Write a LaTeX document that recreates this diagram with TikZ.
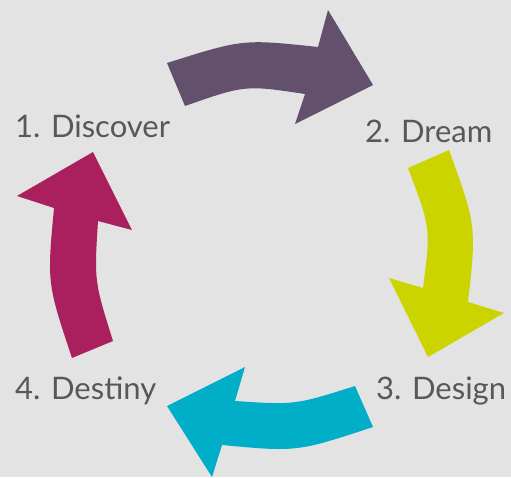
\documentclass[tikz,border=0pt]{standalone}
\usepackage{fontspec}
\setmainfont{Lato}
\usetikzlibrary{positioning}

\definecolor{bggray}{RGB}{227,227,227}
\definecolor{txtgray}{RGB}{88,88,88}
\definecolor{discoverpurple}{RGB}{99,80,108}
\definecolor{dreamlime}{RGB}{204,212,0}
\definecolor{designcyan}{RGB}{0,174,200}
\definecolor{destinymagenta}{RGB}{170,32,95}

\begin{document}
\begin{tikzpicture}[
    x=1pt, y=-1pt,
    steplabel/.style={anchor=base west, inner sep=0pt, text=txtgray, font=\fontsize{31}{36}\selectfont},
    blockarrow/.style={draw=none}
]
% Background
\fill[bggray] (0,0) rectangle (511,477);
\useasboundingbox (0,0) rectangle (511,477);

% Step labels
\node[steplabel] (discover) at (15,137) {1. Discover};
\node[steplabel] (dream) at (365,142) {2. Dream};
\node[steplabel] (design) at (376,399) {3. Design};
\node[steplabel] (destiny) at (15,399) {4. Destiny};

% Discover -> Dream
\fill[blockarrow, discoverpurple] (167,63) .. controls (243,39) .. (318,47)
    -- (328,10) -- (373,85) -- (295,124) -- (305,94)
    .. controls (245,85) .. (185,106) -- cycle;

% Dream -> Design
\fill[blockarrow, dreamlime] (449,150) .. controls (476.5,226) .. (468,302)
    -- (504,313) -- (428,357) -- (389,278) -- (423,288)
    .. controls (430.8,228) .. (408,168) -- cycle;

% Design -> Destiny
\fill[blockarrow, designcyan] (373,427) .. controls (297,452) .. (222,445)
    -- (212,477) -- (167,406) -- (245,367) -- (235,401)
    .. controls (295,405) .. (355,386) -- cycle;

% Destiny -> Discover
\fill[blockarrow, destinymagenta] (72,358) .. controls (47,283) .. (54,208)
    -- (17,196) -- (93,152) -- (132,230) -- (98,221)
    .. controls (94.2,281) .. (113,341) -- cycle;

\end{tikzpicture}
\end{document}
